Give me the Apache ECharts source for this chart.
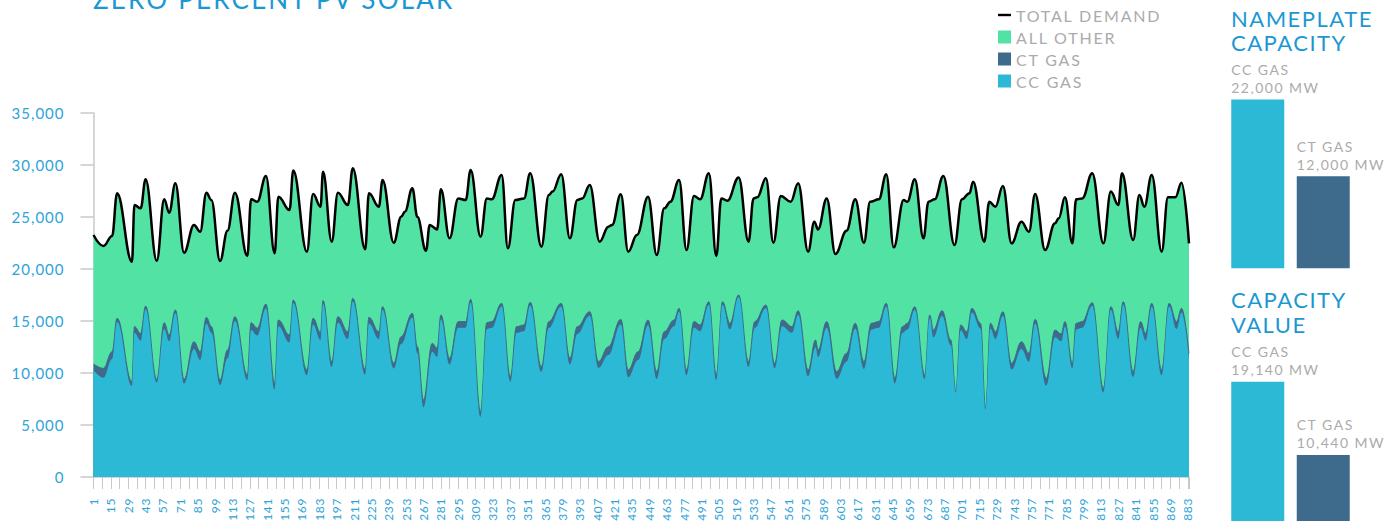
<!DOCTYPE html>
<html>
<head>
<meta charset="utf-8">
<script src="https://cdn.jsdelivr.net/npm/echarts@6/dist/echarts.min.js"></script>
<style>
html, body { margin: 0; padding: 0; background: #ffffff; }
#chart { width: 1394px; height: 525px; }
#chart svg text[style*="26px"] { letter-spacing: 2.2px; }
#chart svg text[style*="22px"] { letter-spacing: 1.5px; }
#chart svg text[style*="16px"] { letter-spacing: 1.8px; }
#chart svg text[style*="14px"] { letter-spacing: 1.5px; }
#chart svg text[style*="15px"] { letter-spacing: 1px; }
#chart svg text[style*="12px"] { letter-spacing: 0.6px; }
</style>
</head>
<body>
<div id="chart"></div>
<script>
// ---- data ----
const demandHours = [
  0,8,15,19,31,33,38,42,51,57,
  61,66,73,81,86,91,95,102,108,114,
  124,127,132,139,146,149,158,161,172,177,
  183,185,192,197,205,209,219,222,230,233,
  242,248,251,257,261,268,271,277,280,287,
  294,300,304,312,317,321,329,334,340,347,
  352,361,367,370,377,384,390,394,400,408,
  415,418,425,431,438,447,454,460,465,472,
  478,484,489,496,502,506,511,520,528,532,
  535,542,548,554,562,568,576,581,584,591,
  598,607,614,621,626,633,639,645,653,656,
  662,669,673,678,685,694,700,706,709,718,
  722,727,733,740,748,754,759,767,775,778,
  783,789,792,797,805,814,820,826,829,838,
  843,847,853,861,866,872,877,883
];
const totalDemandMW = [
  23270,22210,23170,27280,20700,26150,25830,28620,20800,26700,
  25410,28240,21570,24230,23590,27340,26630,20770,23680,27340,
  21250,26700,26470,28940,21510,26950,25670,29460,21670,27210,
  25990,29360,22630,27340,26150,29680,21890,27280,25990,28560,
  22530,25030,25510,27760,25030,21760,24230,23810,27660,22950,
  26790,26630,29520,23110,26790,26700,29040,21990,26630,26790,
  29200,22150,27110,27440,29100,22950,26630,26790,28080,22630,
  24070,24230,27180,21670,23270,26950,21350,25830,26470,28560,
  21830,27020,26700,29200,21250,26790,26570,28810,22630,26790,
  26890,28720,22530,27020,26470,28240,21670,24550,23810,26790,
  21440,23680,26700,22530,26470,26700,29100,22080,26630,26470,
  28620,22950,26470,26700,28940,22310,26700,27280,28400,22630,
  26470,25990,27980,22470,24550,23590,27210,21830,24390,24870,
  26890,22470,26700,26790,29200,22470,27440,26150,29200,22790,
  27110,25990,29040,21670,26890,26890,28300,22470
];
const gasHours = [
  0,8,15,19,31,33,38,42,51,57,
  61,66,73,81,86,91,95,102,108,114,
  124,127,132,139,146,149,158,161,172,177,
  183,185,192,197,205,209,219,222,230,233,
  242,248,257,261,266,273,277,280,287,294,
  300,304,312,317,321,329,336,341,347,352,
  361,367,377,384,390,400,407,415,425,431,
  439,447,454,460,468,472,478,484,489,496,
  502,507,513,520,528,533,542,549,555,563,
  568,576,582,584,591,599,607,614,621,627,
  633,639,646,652,656,662,670,674,677,684,
  691,695,699,704,708,715,719,723,727,733,
  740,748,754,759,768,775,780,783,789,792,
  797,805,814,820,826,830,838,844,848,853,
  861,867,873,877,883
];
const ccGasMW = [
  10270,9550,11350,14910,8770,13860,13110,16140,9090,14240,
  13050,15760,8990,12310,11250,14750,13860,8830,11410,15020,
  9310,14140,13600,16230,8410,14500,12950,16720,9790,14660,
  13180,16660,10590,14820,13270,16880,9850,14750,13270,16080,
  10430,12790,15340,11930,6700,12050,11570,15180,10810,14340,
  14340,16780,5780,14240,14340,16400,9150,13860,14020,16500,
  10110,14340,16400,10810,13760,15500,10490,11730,14660,9590,
  11250,14600,9430,13270,14500,15920,9790,14340,14020,16560,
  9310,16560,14180,17300,10590,14340,16240,10430,14500,13860,
  15590,9690,12470,11510,14340,9430,11090,14280,10390,14180,
  14340,16400,8990,13860,14180,16080,9410,15280,13430,15490,
  12670,8100,14120,13270,15820,14280,6500,14280,13270,15500,
  10330,12310,11090,14760,8790,13430,13050,14440,10430,14180,
  14340,16460,8130,16080,13270,16560,9630,14340,13110,16400,
  9790,16400,14240,15820,11390
];
const ctGasMW = [
  600,900,700,350,400,600,700,300,300,600,
  600,300,400,700,800,600,600,500,800,400,
  500,700,700,400,600,600,700,300,500,600,
  700,300,500,600,700,300,500,600,700,300,
  500,700,400,600,700,800,800,400,600,600,
  600,300,500,600,600,300,500,600,600,300,
  500,600,300,600,700,400,600,800,500,700,
  800,500,700,700,600,300,500,600,600,300,
  500,300,600,200,500,600,300,500,600,600,
  400,600,700,700,600,700,800,500,700,600,
  600,300,500,600,600,300,400,300,700,500,
  500,100,500,700,400,500,100,500,700,400,
  600,700,800,400,700,700,700,500,500,600,
  600,300,400,300,700,300,500,600,700,300,
  500,300,700,400,500
];
const capacityCategories = ['CC GAS', 'CT GAS'];
const nameplateMW = [22000, 12000];
const capacityValueMW = [19140, 10440];
const legendNames = ['TOTAL DEMAND', 'ALL OTHER', 'CT GAS', 'CC GAS'];
const chartTitle = 'ZERO PERCENT PV SOLAR';
const nameplateTitle = 'NAMEPLATE\nCAPACITY';
const capacityValueTitle = 'CAPACITY\nVALUE';

// ---- styles ----
const GREEN = '#52e2a3';
const CC = '#2cb9d6';
const CT = '#3e6a8b';
const TITLE_BLUE = '#1b98d3';
const AXIS_BLUE = '#2ea3d8';
const AXIS_GRAY = '#c8c8c8';
const TEXT_GRAY = '#ababab';
const FONT = 'Lato';
const SMOOTH = 0.4;
const barColors = [CC, CT];

// ---- derived series data ----
const demandData = demandHours.map((h, i) => [h, totalDemandMW[i]]);
const ccData = gasHours.map((h, i) => [h, ccGasMW[i]]);
const ctTopData = gasHours.map((h, i) => [h, ccGasMW[i] + ctGasMW[i]]);

const fmt = v => Number(v).toLocaleString('en-US');

const chart = echarts.init(document.getElementById('chart'), null, { renderer: 'svg', width: 1394, height: 525 });

const barLabel = {
  show: true,
  position: [0, -39],
  color: TEXT_GRAY,
  fontSize: 14,
  lineHeight: 18,
  fontFamily: FONT,
  formatter: p => capacityCategories[p.dataIndex] + '\n' + fmt(p.value) + ' MW'
};

const option = {
  animation: false,
  backgroundColor: '#ffffff',
  textStyle: { fontFamily: FONT },
  title: [
    { text: chartTitle, left: 93, top: -14.5, padding: 0,
      textStyle: { color: TITLE_BLUE, fontSize: 26, fontWeight: 'normal', fontFamily: FONT } },
    { text: nameplateTitle, left: 1231, top: 6, padding: 0,
      textStyle: { color: TITLE_BLUE, fontSize: 22, fontWeight: 'normal', fontFamily: FONT, lineHeight: 24.5 } },
    { text: capacityValueTitle, left: 1231, top: 287.5, padding: 0,
      textStyle: { color: TITLE_BLUE, fontSize: 22, fontWeight: 'normal', fontFamily: FONT, lineHeight: 24.5 } }
  ],
  legend: {
    orient: 'vertical', left: 998, top: 7, padding: 0,
    itemWidth: 13, itemHeight: 13, itemGap: 6, selectedMode: false,
    textStyle: { color: TEXT_GRAY, fontSize: 16, fontFamily: FONT },
    data: [
      { name: legendNames[0], icon: 'path://M0,0H13V2.4H0Z', itemStyle: { color: '#000000' } },
      { name: legendNames[1], icon: 'rect' },
      { name: legendNames[2], icon: 'rect' },
      { name: legendNames[3], icon: 'rect' }
    ]
  },
  grid: [
    { left: 93.5, right: 205, top: 113, bottom: 48, outerBoundsMode: 'none', containLabel: false },
    { left: 1225, width: 131, top: 99.5, height: 168.8, outerBoundsMode: 'none', containLabel: false },
    { left: 1225, width: 131, top: 381.7, height: 139.3, outerBoundsMode: 'none', containLabel: false }
  ],
  xAxis: [
    { type: 'value', gridIndex: 0, min: 0, max: 883, interval: 14,
      axisLine: { show: true, onZero: false, lineStyle: { color: AXIS_GRAY, width: 1.5 } },
      axisTick: { show: true, length: 12, lineStyle: { color: AXIS_GRAY, width: 1 } },
      minorTick: { show: true, splitNumber: 2, length: 12, lineStyle: { color: AXIS_GRAY, width: 1 } },
      splitLine: { show: false }, minorSplitLine: { show: false },
      axisLabel: { rotate: 90, margin: 21, color: AXIS_BLUE, fontSize: 12, fontFamily: FONT,
        showMaxLabel: false, formatter: v => String(v + 1) } },
    { type: 'category', gridIndex: 1, data: capacityCategories, show: false },
    { type: 'category', gridIndex: 2, data: capacityCategories, show: false }
  ],
  yAxis: [
    { type: 'value', gridIndex: 0, min: 0, max: 35000, interval: 5000,
      axisLine: { show: true, lineStyle: { color: AXIS_GRAY, width: 1.5 } },
      axisTick: { show: true, length: 13, lineStyle: { color: AXIS_GRAY, width: 1.5 } },
      splitLine: { show: false },
      axisLabel: { margin: 29, color: AXIS_BLUE, fontSize: 15, fontFamily: FONT, formatter: v => fmt(v) } },
    { type: 'value', gridIndex: 1, min: 0, max: 22000, show: false, splitLine: { show: false } },
    { type: 'value', gridIndex: 2, min: 2600, max: 19140, show: false, splitLine: { show: false } }
  ],
  series: [
    { name: legendNames[1], type: 'line', xAxisIndex: 0, yAxisIndex: 0, data: demandData,
      smooth: SMOOTH, smoothMonotone: 'x', symbol: 'none', silent: true, z: 1,
      itemStyle: { color: GREEN }, lineStyle: { width: 0, color: GREEN },
      areaStyle: { color: GREEN, opacity: 1 } },
    { name: legendNames[2], type: 'line', xAxisIndex: 0, yAxisIndex: 0, data: ctTopData,
      smooth: SMOOTH, smoothMonotone: 'x', symbol: 'none', silent: true, z: 2,
      itemStyle: { color: CT }, lineStyle: { width: 1, color: CT },
      areaStyle: { color: CT, opacity: 1 } },
    { name: legendNames[3], type: 'line', xAxisIndex: 0, yAxisIndex: 0, data: ccData,
      smooth: SMOOTH, smoothMonotone: 'x', symbol: 'none', silent: true, z: 3,
      itemStyle: { color: CC }, lineStyle: { width: 0, color: CC },
      areaStyle: { color: CC, opacity: 1 } },
    { name: legendNames[0], type: 'line', xAxisIndex: 0, yAxisIndex: 0, data: demandData,
      smooth: SMOOTH, smoothMonotone: 'x', symbol: 'none', showSymbol: false, silent: true, z: 4,
      itemStyle: { color: '#000000' }, lineStyle: { width: 2.5, color: '#000000' } },
    { name: 'Nameplate capacity', type: 'bar', xAxisIndex: 1, yAxisIndex: 1, barWidth: 53, silent: true,
      data: nameplateMW.map((v, i) => ({ value: v, itemStyle: { color: barColors[i] } })),
      label: barLabel },
    { name: 'Capacity value', type: 'bar', xAxisIndex: 2, yAxisIndex: 2, barWidth: 53, silent: true, clip: true,
      data: capacityValueMW.map((v, i) => ({ value: v, itemStyle: { color: barColors[i] } })),
      label: barLabel }
  ]
};
chart.setOption(option);
</script>
</body>
</html>
